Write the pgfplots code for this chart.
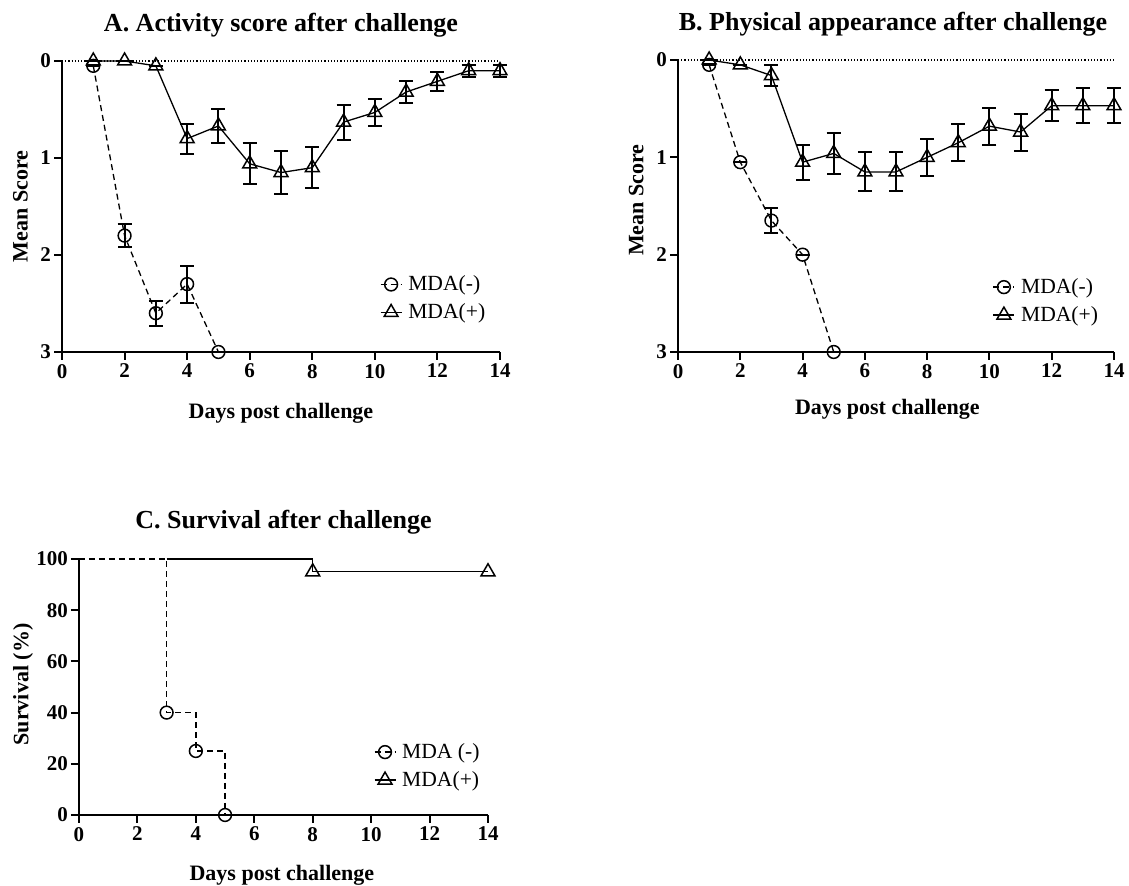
\documentclass[border=0pt]{standalone}
\usepackage{fontspec}
\setmainfont{Liberation Serif}
\usepackage{pgfplots}
\usepackage{pgfplotstable}
\pgfplotsset{compat=1.18}

\pgfplotstableread{
x y e
1 0.05 0
2 1.80 0.12
3 2.60 0.13
4 2.30 0.19
5 3.00 0
}\Aminus
\pgfplotstableread{
x y e
1 0.00 0
2 0.00 0
3 0.05 0
4 0.80 0.155
5 0.67 0.18
6 1.06 0.21
7 1.15 0.22
8 1.10 0.21
9 0.63 0.18
10 0.53 0.14
11 0.32 0.11
12 0.21 0.10
13 0.10 0.06
14 0.10 0.06
}\Aplus
\pgfplotstableread{
x y e
1 0.05 0
2 1.05 0
3 1.65 0.13
4 2.00 0
5 3.00 0
}\Bminus
\pgfplotstableread{
x y e
1 0.00 0
2 0.05 0
3 0.16 0.11
4 1.05 0.18
5 0.96 0.21
6 1.15 0.20
7 1.15 0.20
8 1.00 0.19
9 0.85 0.19
10 0.68 0.19
11 0.74 0.19
12 0.47 0.16
13 0.47 0.18
14 0.47 0.18
}\Bplus

\pgfplotsset{
  every axis title shift=0pt,
  panel/.style={
    scale only axis, clip=false,
    axis x line*=bottom, axis y line*=left,
    axis line style={line width=1pt},
    every tick/.style={line width=1pt, black},
    tick align=outside, major tick length=4pt,
    /pgf/number format/assume math mode=true,
    tick label style={font=\fontsize{10.5}{11}\selectfont\bfseries},
    yticklabel style={xshift=2pt},
    xticklabel style={yshift=1.5pt},
    xmin=0, xmax=14, xtick={0,2,...,14},
    title style={font=\fontsize{13}{15}\selectfont\bfseries, anchor=base},
    label style={font=\fontsize{11}{13}\selectfont\bfseries},
    legend style={draw=none, fill=none, inner sep=0pt, row sep=1pt,
      nodes={inner xsep=3pt},
      font=\fontsize{10.8}{12}\selectfont, anchor=north west},
    legend cell align=left,
    legend image code/.code={\draw[##1, sharp plot, mark indices={2}] plot coordinates {(0pt,0pt) (5.25pt,0pt) (10.5pt,0pt)};},
  },
  minus/.style={black, line width=0.65pt, dash pattern=on 3pt off 2pt, mark=o, mark size=3.2pt,
    mark options={solid, line width=0.75pt}},
  plus/.style={black, line width=0.65pt, mark=triangle, mark size=4pt,
    mark options={solid, line width=0.75pt}},
  eb/.style={error bars/.cd, y dir=both, y explicit,
    error bar style={line width=1pt, solid},
    error mark options={rotate=90, mark size=3.5pt, line width=1pt}},
}

\begin{document}
\begin{tikzpicture}
\useasboundingbox (0,0) rectangle (564.5pt,443pt);

% Panel A
\begin{axis}[panel, at={(31pt,267pt)}, anchor=south west,
  width=219pt, height=145.5pt,
  ymin=0, ymax=3, y dir=reverse, ytick={0,1,2,3},
  title={A. Activity score after challenge},
  title style={at={(axis description cs:0.5,1.103)}},
  xlabel={Days post challenge},
  xlabel style={at={(axis description cs:0.5,-0.23)}, anchor=base},
  ylabel={Mean Score},
  ylabel style={at={(axis description cs:-0.095,0.5)}, anchor=center, rotate=0},
  legend style={at={(axis description cs:0.725,0.278)}},
]
\addplot[densely dotted, line width=0.6pt, forget plot] coordinates {(0,0) (14,0)};
\addplot[minus, eb] table[x=x, y=y, y error=e] {\Aminus};
\addplot[plus, eb] table[x=x, y=y, y error=e] {\Aplus};
\legend{MDA(-), MDA(+)}
\end{axis}

% Panel B
\begin{axis}[panel, at={(339pt,267pt)}, anchor=south west,
  width=218pt, height=146pt,
  ymin=0, ymax=3, y dir=reverse, ytick={0,1,2,3},
  title={B. Physical appearance after challenge},
  title style={at={(axis description cs:0.493,1.102)}},
  xlabel={Days post challenge},
  xlabel style={at={(axis description cs:0.48,-0.215)}, anchor=base},
  ylabel={Mean Score},
  ylabel style={at={(axis description cs:-0.096,0.52)}, anchor=center, rotate=0},
  legend style={at={(axis description cs:0.721,0.268)}},
]
\addplot[densely dotted, line width=0.6pt, forget plot] coordinates {(0,0) (14,0)};
\addplot[minus, eb] table[x=x, y=y, y error=e] {\Bminus};
\addplot[plus, eb] table[x=x, y=y, y error=e] {\Bplus};
\legend{MDA(-), MDA(+)}
\end{axis}

% Panel C
\begin{axis}[panel, at={(39.5pt,35.5pt)}, anchor=south west,
  width=204.5pt, height=128pt,
  ymin=0, ymax=100, ytick={0,20,...,100},
  title={C. Survival after challenge},
  title style={at={(axis description cs:0.5,1.121)}},
  xlabel={Days post challenge},
  xlabel style={at={(axis description cs:0.496,-0.254)}, anchor=base},
  ylabel={Survival (\%)},
  ylabel style={at={(axis description cs:-0.137,0.51)}, anchor=center, rotate=0},
  legend style={at={(axis description cs:0.72,0.298)}},
]
\addplot[minus, const plot, mark indices={2,3,4}] coordinates {(0,100) (3,40) (4,25) (5,0)};
\addplot[plus, const plot, mark indices={2,3}] coordinates {(3,100) (8,95) (14,95)};
\legend{MDA (-), MDA(+)}
\end{axis}
\end{tikzpicture}
\end{document}
